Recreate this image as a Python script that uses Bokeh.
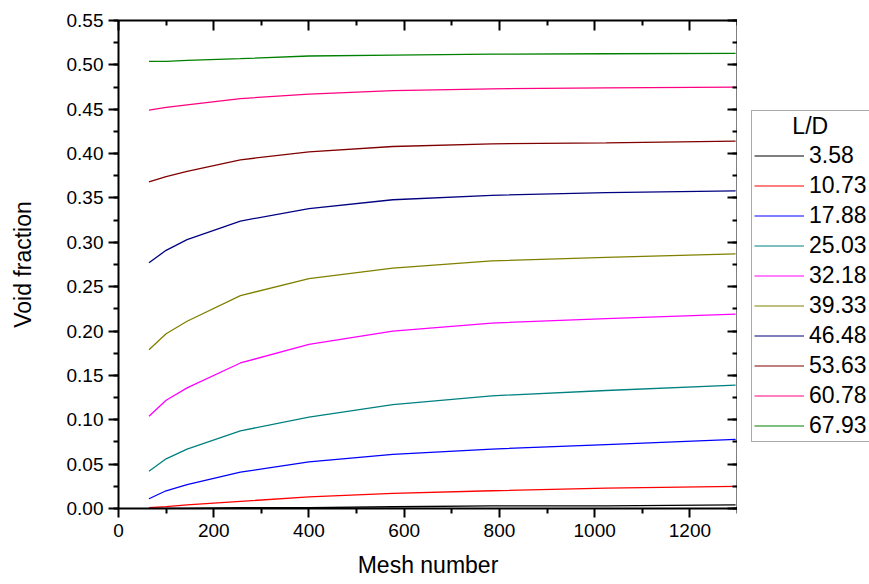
from bokeh.plotting import figure
from bokeh.layouts import row
from bokeh.models import (Range1d, LinearAxis, FixedTicker, PrintfTickFormatter,
                          Legend, LegendItem)
from bokeh.embed import file_html
from bokeh.resources import INLINE

mesh = [64, 100, 144, 256, 400, 576, 784, 1024, 1296]

ld_labels = ["3.58", "10.73", "17.88", "25.03", "32.18", "39.33", "46.48", "53.63", "60.78", "67.93"]

vf_3_58 = [0.000, 0.000, 0.000, 0.001, 0.001, 0.002, 0.003, 0.003, 0.004]
vf_10_73 = [0.001, 0.002, 0.004, 0.008, 0.013, 0.017, 0.020, 0.023, 0.025]
vf_17_88 = [0.011, 0.020, 0.027, 0.041, 0.0525, 0.061, 0.067, 0.072, 0.078]
vf_25_03 = [0.042, 0.056, 0.067, 0.0875, 0.103, 0.117, 0.127, 0.133, 0.139]
vf_32_18 = [0.104, 0.122, 0.136, 0.164, 0.185, 0.200, 0.209, 0.214, 0.219]
vf_39_33 = [0.179, 0.197, 0.211, 0.240, 0.259, 0.271, 0.279, 0.283, 0.287]
vf_46_48 = [0.277, 0.291, 0.303, 0.324, 0.338, 0.348, 0.353, 0.356, 0.358]
vf_53_63 = [0.368, 0.374, 0.380, 0.393, 0.402, 0.408, 0.411, 0.412, 0.414]
vf_60_78 = [0.449, 0.452, 0.455, 0.462, 0.467, 0.471, 0.473, 0.474, 0.475]
vf_67_93 = [0.504, 0.504, 0.505, 0.507, 0.510, 0.511, 0.512, 0.5125, 0.513]

series = [vf_3_58, vf_10_73, vf_17_88, vf_25_03, vf_32_18,
          vf_39_33, vf_46_48, vf_53_63, vf_60_78, vf_67_93]
colors = ["#000000", "#FF0000", "#0000FF", "#008080", "#FF00FF",
          "#808000", "#000080", "#800000", "#FF0080", "#008000"]

x_major = [0, 200, 400, 600, 800, 1000, 1200]
x_minor = [100, 300, 500, 700, 900, 1100, 1300]
y_major = [round(0.05 * i, 2) for i in range(12)]
y_minor = [round(0.025 * i, 3) for i in range(23)]

FONT = "Liberation Sans"

p = figure(width=737, height=584, output_backend="svg", toolbar_location=None,
           x_range=Range1d(0, 1300), y_range=Range1d(0, 0.55),
           x_axis_type=None, y_axis_type=None,
           min_border_left=118, min_border_right=0,
           min_border_top=20, min_border_bottom=76)
p.xgrid.visible = False
p.ygrid.visible = False
p.outline_line_color = None
p.background_fill_color = "white"
p.border_fill_color = "white"

xt = FixedTicker(ticks=x_major, minor_ticks=x_minor)
yt = FixedTicker(ticks=y_major, minor_ticks=y_minor)


def style(ax, labels=True):
    ax.axis_line_width = 2
    ax.axis_line_color = "black"
    ax.major_tick_line_width = 2
    ax.minor_tick_line_width = 2
    ax.major_tick_line_color = "black"
    ax.minor_tick_line_color = "black"
    ax.major_label_text_font = FONT
    ax.major_label_text_font_size = "19px"
    ax.major_label_text_color = "black" if labels else None
    ax.axis_label_text_font = FONT
    ax.axis_label_text_font_size = "23px"
    ax.axis_label_text_font_style = "normal"
    ax.axis_label_text_color = "black"


bottom = LinearAxis(ticker=xt, axis_label="Mesh number")
style(bottom)
bottom.major_tick_out = 9
bottom.major_tick_in = 0
bottom.minor_tick_out = 5
bottom.minor_tick_in = 0
bottom.major_label_standoff = 6
bottom.axis_label_standoff = 12
p.add_layout(bottom, "below")

left = LinearAxis(ticker=yt, axis_label="Void fraction",
                  formatter=PrintfTickFormatter(format="%.2f"))
style(left)
left.major_tick_out = 10
left.major_tick_in = 0
left.minor_tick_out = 5
left.minor_tick_in = 0
left.major_label_standoff = 5
left.axis_label_standoff = 28
p.add_layout(left, "left")

top = LinearAxis(ticker=xt)
style(top, labels=False)
top.major_label_text_font_size = "0px"
top.major_tick_out = 0
top.major_tick_in = 10
top.minor_tick_out = 0
top.minor_tick_in = 5
top.major_label_standoff = 0
p.add_layout(top, "above")

right = LinearAxis(ticker=yt)
style(right, labels=False)
right.major_label_text_font_size = "0px"
right.major_tick_out = 0
right.major_tick_in = 10
right.minor_tick_out = 0
right.minor_tick_in = 5
right.major_label_standoff = 0
p.add_layout(right, "right")

for ys, c in zip(series, colors):
    p.line(mesh, ys, line_color=c, line_width=1.3)

# Legend panel: a second figure holding only the legend
q = figure(width=132, height=584, output_backend="svg", toolbar_location=None,
           x_range=Range1d(-2, -1), y_range=Range1d(-2, -1),
           x_axis_type=None, y_axis_type=None,
           min_border_left=14, min_border_top=20,
           min_border_right=0, min_border_bottom=76)
q.xgrid.visible = False
q.ygrid.visible = False
q.outline_line_color = None
q.background_fill_color = "white"
q.border_fill_color = "white"

items = []
for lab, ys, c in zip(ld_labels, series, colors):
    r = q.line(mesh, ys, line_color=c, line_width=1.1)
    items.append(LegendItem(label=lab, renderers=[r]))

legend = Legend(items=items, location=(0, 66),
                title="\u00a0\u00a0\u00a0\u00a0\u00a0\u00a0L/D",
                title_text_font=FONT, title_text_font_size="23px",
                title_text_font_style="normal", title_standoff=2,
                title_text_color="black",
                label_text_font=FONT, label_text_font_size="23px",
                label_text_color="black",
                label_height=23, glyph_height=23, glyph_width=50,
                label_standoff=5, spacing=3, padding=2, margin=0,
                border_line_color="#555555", border_line_width=1.5,
                background_fill_color="white", background_fill_alpha=1.0)
q.add_layout(legend, "center")

layout = row(p, q, spacing=0)
open("out.html", "w").write(file_html(layout, INLINE))
